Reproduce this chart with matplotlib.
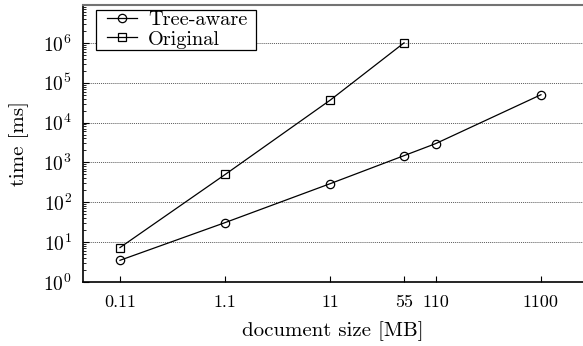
import numpy as np
import matplotlib.pyplot as plt
from matplotlib.patches import Rectangle
from matplotlib.ticker import FixedLocator, FixedFormatter, LogLocator, NullLocator

plt.rcParams['font.family'] = 'serif'
plt.rcParams['font.serif'] = ['cmr10']
plt.rcParams['mathtext.fontset'] = 'cm'
plt.rcParams['axes.formatter.use_mathtext'] = True
plt.rcParams['font.size'] = 13

# document sizes [MB] and times [ms]
size_tree = [0.11, 1.1, 11, 55, 110, 1100]
time_tree = [3.5, 31, 295, 1480, 2970, 50000]
size_orig = [0.11, 1.1, 11, 55]
time_orig = [7.3, 500, 37000, 1.0e6]
xtick_vals = [0.11, 1.1, 11, 55, 110, 1100]
xtick_labels = ['0.11', '1.1', '11', '55', '110', '1100']

fig = plt.figure(figsize=(5.83, 3.46), dpi=100)
ax = fig.add_axes([0.1424, 0.185, 0.8576, 0.8005])

ax.plot(size_tree, time_tree, '-o', color='black', lw=0.9, ms=6,
        mfc='none', mec='black', mew=0.9, label='Tree-aware')
ax.plot(size_orig, time_orig, '-s', color='black', lw=0.9, ms=6,
        mfc='none', mec='black', mew=0.9, label='Original')

ax.set_xscale('log')
ax.set_yscale('log')
ax.set_xlim(0.049, 2760)
ax.set_ylim(1, 10**6.95)

ax.xaxis.set_major_locator(FixedLocator(xtick_vals))
ax.xaxis.set_major_formatter(FixedFormatter(xtick_labels))
ax.xaxis.set_minor_locator(NullLocator())
ax.yaxis.set_major_locator(LogLocator(base=10, numticks=10))
ax.yaxis.set_minor_locator(LogLocator(base=10, subs=np.arange(2, 10), numticks=20))

ax.tick_params(axis='both', which='both', direction='in', top=False, right=False)
ax.tick_params(axis='x', which='major', length=4, pad=9, labelsize=13)
ax.tick_params(axis='y', which='major', length=4, pad=8, labelsize=14)
ax.tick_params(axis='y', which='minor', length=2)

ax.yaxis.grid(True, which='major', linestyle=(0, (1, 1)), color='0.35', lw=0.7)
ax.set_axisbelow(True)

ax.spines['right'].set_visible(False)
ax.spines['top'].set_color('0.45')
ax.spines['top'].set_linewidth(1.5)
ax.spines['bottom'].set_linewidth(1.2)
ax.spines['left'].set_linewidth(1.2)

ax.set_xlabel('document size [MB]', fontsize=15, labelpad=8)
ax.set_ylabel('time [ms]', fontsize=15, labelpad=10)

# legend box drawn separately, entries placed inside it
ax.add_patch(Rectangle((0.026, 0.8375), 0.32, 0.1445, transform=ax.transAxes,
                       facecolor='white', edgecolor='black', lw=0.9, zorder=4))
leg = ax.legend(loc='upper left', bbox_to_anchor=(0.048, 0.978), frameon=False,
                borderpad=0, labelspacing=0.05, handlelength=1.48,
                handletextpad=0.54, borderaxespad=0, fontsize=14.6)
leg.set_zorder(5)

fig.savefig('out.png', dpi=100)
